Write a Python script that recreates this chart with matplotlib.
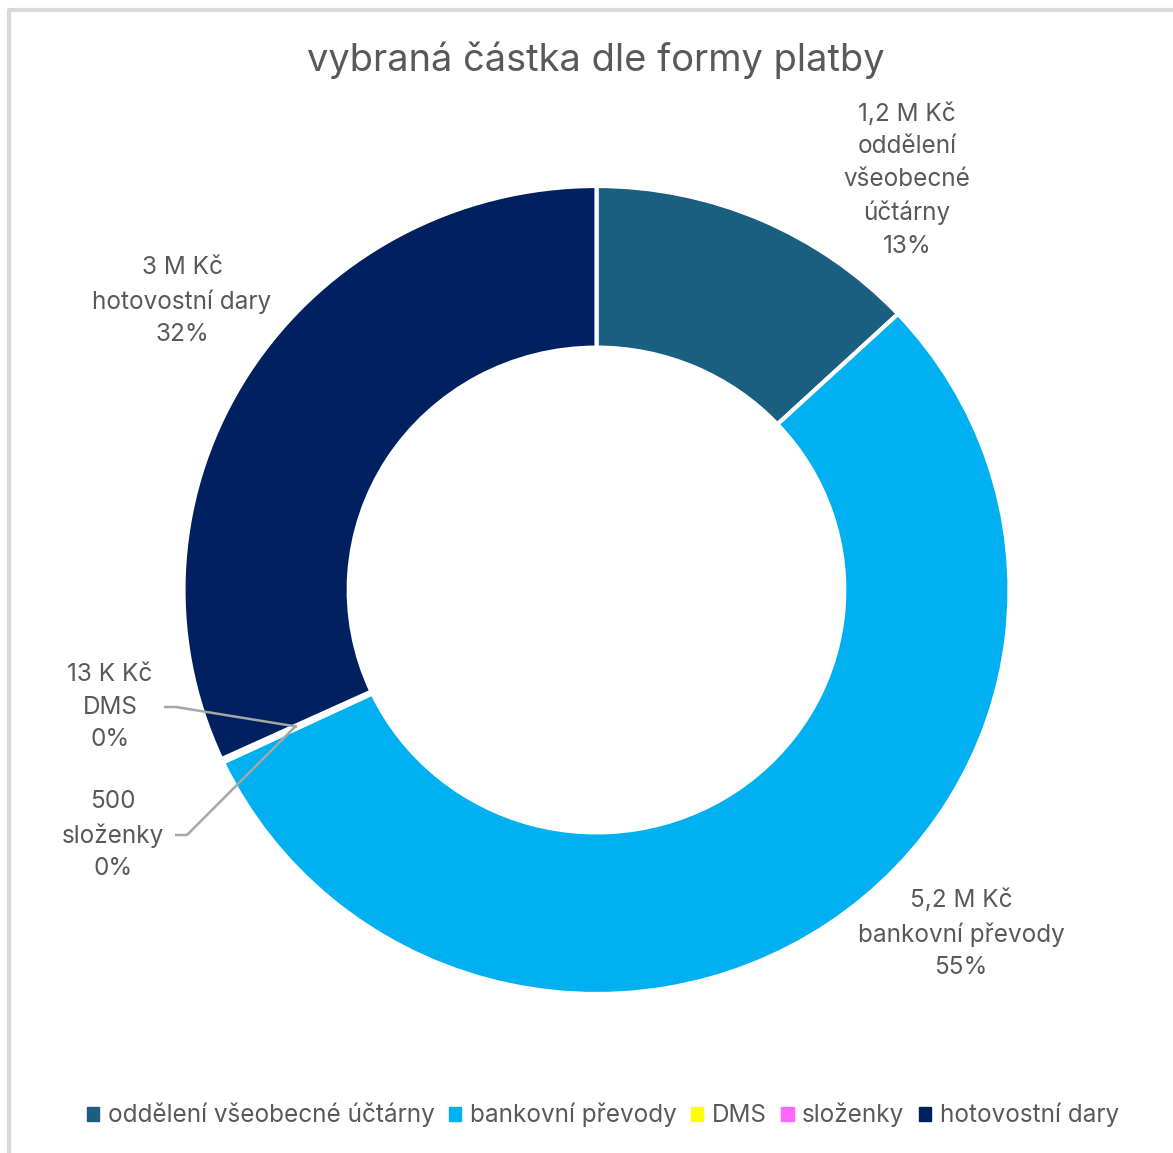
import matplotlib
matplotlib.use("Agg")
import matplotlib.pyplot as plt
import numpy as np

plt.rcParams["font.family"] = ["Inter", "DejaVu Sans"]

W, H = 1173, 1153

categories = ["oddělení všeobecné účtárny", "bankovní převody", "DMS", "složenky", "hotovostní dary"]
values = [1_230_000, 5_190_000, 13_000, 500, 3_010_000]
value_labels = ["1,2 M Kč", "5,2 M Kč", "13 K Kč", "500", "3 M Kč"]
label_names = ["oddělení\nvšeobecné\núčtárny", "bankovní převody", "DMS", "složenky", "hotovostní dary"]
colors = ["#1A5E80", "#00B0F0", "#FFFF00", "#FF66FF", "#002060"]

TEXT = "#595959"

fig = plt.figure(figsize=(W / 100, H / 100), dpi=100)

# the donut is slightly wider than tall in the original
cx, cy, rx, ry = 596.5, 590, 413, 404
pax = fig.add_axes([(cx - rx) / W, (H - cy - ry) / H, 2 * rx / W, 2 * ry / H])
wedges, _ = pax.pie(values, colors=colors, startangle=90, counterclock=False,
                    radius=1, frame=True,
                    wedgeprops=dict(width=0.4, edgecolor="white", linewidth=3))
pax.set_aspect("auto")
pax.set_xlim(-1, 1)
pax.set_ylim(-1, 1)
pax.axis("off")

# overlay axes in pixel coordinates (y measured from top), drawn above the donut
ax = fig.add_axes([0, 0, 1, 1])
ax.set_xlim(0, W)
ax.set_ylim(H, 0)
ax.axis("off")
ax.set_zorder(3)

total = sum(values)
pcts = [f"{round(v / total * 100):.0f}%" for v in values]

label_pos = [(907, 180), (961, 934), (110, 707), (113, 835), (182, 301)]
for i, (x, y) in enumerate(label_pos):
    ax.text(x, y, f"{value_labels[i]}\n{label_names[i]}\n{pcts[i]}",
            ha="center", va="center", fontsize=17.5, color=TEXT, linespacing=1.52)

# leader lines for the tiny slices
for i, (x0, y0) in [(2, (164, 707)), (3, (175, 835))]:
    w = wedges[i]
    ang = np.deg2rad((w.theta1 + w.theta2) / 2)
    tx, ty = cx + 0.8 * rx * np.cos(ang), cy - 0.8 * ry * np.sin(ang)
    ax.plot([x0, x0 + 12, tx], [y0, y0, ty], color="#A6A6A6", lw=1.8,
            solid_capstyle="butt")

ax.text(596, 60, "vybraná částka dle formy platby", ha="center", va="center",
        fontsize=27.4, color=TEXT)

handles = [plt.Rectangle((0, 0), 1, 1, color=c) for c in colors]
ax.legend(handles, categories, loc="center", bbox_to_anchor=(603 / W, 1 - 1115 / H),
          ncol=5, frameon=False, fontsize=17.5, handlelength=0.5, handleheight=0.5,
          handletextpad=0.35, columnspacing=0.6, labelcolor=TEXT)

# chart frame
ax.plot([9, 9, W], [H - 2, 10, 10], color="#D9D9D9", lw=3)

fig.savefig("out.png", dpi=100)
